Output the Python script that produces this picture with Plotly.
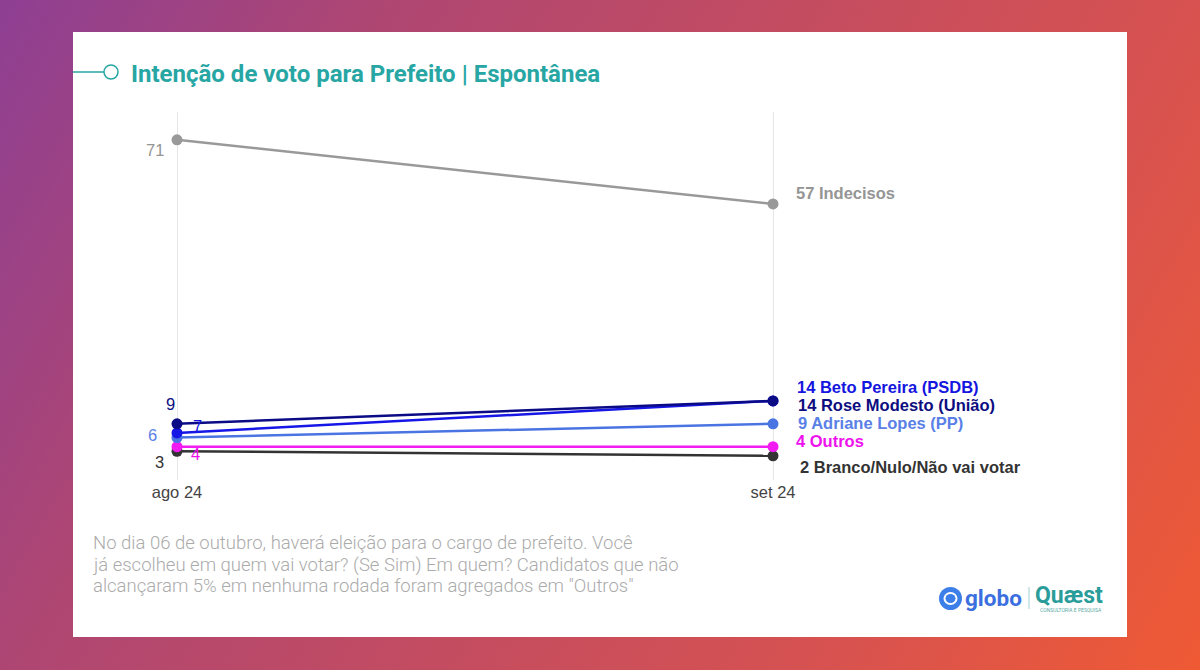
import base64
import plotly.graph_objects as go

W, H = 1200, 670

categories = ["ago 24", "set 24"]
series_names = ["Indecisos", "Branco/Nulo/Não vai votar", "Outros", "Adriane Lopes (PP)", "Beto Pereira (PSDB)", "Rose Modesto (União)"]
indecisos = [71, 57]
branco = [3, 2]
outros = [4, 4]
adriane = [6, 9]
beto = [7, 14]
rose = [9, 14]
series_values = [indecisos, branco, outros, adriane, beto, rose]
colors = ["#999999", "#333333", "#f21cf2", "#4a74e2", "#1616e6", "#0b0b86"]
label_colors = ["#959595", "#333333", "#ee11ee", "#5a7fe6", "#1515e0", "#0d0d80"]
# left label offsets (px) and right label offsets (px)
left_off = [(-22, 10), (-18, 11), (18, 7), (-25, -3), (20, -7), (-7, -20)]
right_off = [(21, -11), (25, 11), (21, -6), (23, -1), (22, -14), (23, 4)]

title = "Intenção de voto para Prefeito | Espontânea"
footer_lines = ["No dia 06 de outubro, haverá eleição para o cargo de prefeito. Você",
                "já escolheu em quem vai votar? (Se Sim) Em quem? Candidatos que não",
                "alcançaram 5% em nenhuma rodada foram agregados em \"Outros\""]

# background gradient as inline svg
svg = f'''<svg xmlns="http://www.w3.org/2000/svg" width="{W}" height="{H}">
<defs><linearGradient id="g" gradientUnits="userSpaceOnUse" x1="0" y1="0" x2="{W}" y2="{H}">
<stop offset="0" stop-color="#8e3f93"/><stop offset="0.24" stop-color="#ae4673"/>
<stop offset="0.76" stop-color="#d75250"/><stop offset="1" stop-color="#ef5a34"/>
</linearGradient></defs><rect width="{W}" height="{H}" fill="url(#g)"/></svg>'''
svg_uri = "data:image/svg+xml;base64," + base64.b64encode(svg.encode()).decode()

def px(x):
    return x / W

def py(y):
    return 1 - y / H

# plot area
x0p, x1p = 73, 1127
cat0, cat1 = 177, 773
unit = cat1 - cat0
xr = [-(cat0 - x0p) / unit, 1 + (x1p - cat1) / unit]
y_top, y_bot = 112, 480
zero_y, ppu = 465, 4.58
yr = [(zero_y - y_bot) / ppu, (zero_y - y_top) / ppu]

fig = go.Figure()
for name, vals, col in zip(series_names, series_values, colors):
    fig.add_trace(go.Scatter(
        x=categories, y=vals, name=name, mode="lines+markers",
        line=dict(color=col, width=2.5), marker=dict(color=col, size=11),
        hoverinfo="skip", cliponaxis=False))

FONT = "Liberation Sans, Arial"
annotations = []
for name, vals, lc, lo, ro in zip(series_names, series_values, label_colors, left_off, right_off):
    annotations.append(dict(x=categories[0], y=vals[0], xref="x", yref="y", text=str(vals[0]),
                            showarrow=False, xshift=lo[0], yshift=-lo[1],
                            font=dict(family=FONT, size=16.5, color=lc)))
    annotations.append(dict(x=categories[1], y=vals[1], xref="x", yref="y",
                            text=f"<b>{vals[1]} {name}</b>", showarrow=False, xanchor="left",
                            xshift=ro[0], yshift=-ro[1],
                            font=dict(family=FONT, size=16.5, color=lc)))

annotations.append(dict(x=px(129), y=py(74), xref="paper", yref="paper", text=f"<b>{title}</b>",
                        showarrow=False, xanchor="left", yanchor="middle",
                        font=dict(family="Roboto", size=24, color="#27a6a4")))
for i, line in enumerate(footer_lines):
    annotations.append(dict(x=px(91), y=py(543 + 21.5 * i), xref="paper", yref="paper", text=line,
                            showarrow=False, xanchor="left", yanchor="middle", align="left",
                            font=dict(family="Roboto", size=18.5, color="#ababab", weight=300)))
# logo texts
annotations.append(dict(x=px(963), y=py(598), xref="paper", yref="paper", text="<b>globo</b>",
                        showarrow=False, xanchor="left", yanchor="middle",
                        font=dict(family="Roboto", size=22.5, color="#3b6fe0")))
annotations.append(dict(x=px(1033), y=py(595), xref="paper", yref="paper", text="<b>Quæst</b>",
                        showarrow=False, xanchor="left", yanchor="middle",
                        font=dict(family="Roboto", size=23, color="#2a9d9a")))
annotations.append(dict(x=px(1071), y=py(610), xref="paper", yref="paper", text="CONSULTORIA E PESQUISA",
                        showarrow=False, xanchor="center", yanchor="middle",
                        font=dict(family="Roboto", size=5, color="#5aaaa8")))

shapes = [
    dict(type="rect", xref="paper", yref="paper", x0=px(73), x1=px(1127), y0=py(637), y1=py(32),
         fillcolor="white", line=dict(width=0), layer="below"),
    dict(type="line", xref="paper", yref="paper", x0=px(73), x1=px(104), y0=py(72), y1=py(72),
         line=dict(color="#27a6a4", width=1.5)),
    dict(type="circle", xref="paper", yref="paper", x0=px(104), x1=px(118), y0=py(79), y1=py(65),
         fillcolor="white", line=dict(color="#27a6a4", width=1.5)),
    # globo icon
    dict(type="circle", xref="paper", yref="paper", x0=px(939), x1=px(962), y0=py(610), y1=py(587),
         fillcolor="#3d7fe8", line=dict(width=0)),
    dict(type="circle", xref="paper", yref="paper", x0=px(943.5), x1=px(957.5), y0=py(605), y1=py(592),
         fillcolor="white", line=dict(width=0)),
    dict(type="circle", xref="paper", yref="paper", x0=px(945.5), x1=px(955.5), y0=py(603), y1=py(594),
         fillcolor="#3d7fe8", line=dict(width=0)),
    dict(type="line", xref="paper", yref="paper", x0=px(1029), x1=px(1029), y0=py(609), y1=py(587),
         line=dict(color="#9fcfd0", width=1)),
]

fig.update_layout(
    width=W, height=H, autosize=False,
    margin=dict(l=0, r=0, t=0, b=0),
    paper_bgcolor="#c04c60", plot_bgcolor="rgba(0,0,0,0)",
    showlegend=False,
    images=[dict(source=svg_uri, xref="paper", yref="paper", x=0, y=1, sizex=1, sizey=1,
                 xanchor="left", yanchor="top", sizing="stretch", layer="below")],
    shapes=shapes, annotations=annotations,
    xaxis=dict(domain=[px(x0p), px(x1p)], range=xr, type="category",
               showgrid=True, gridcolor="#e6e6e6", gridwidth=1, zeroline=False,
               showline=False, ticks="", tickfont=dict(family=FONT, size=16.5, color="#444444")),
    yaxis=dict(domain=[py(y_bot), py(y_top)], range=yr, visible=False, showgrid=False),
)

fig.write_html("out.html")
